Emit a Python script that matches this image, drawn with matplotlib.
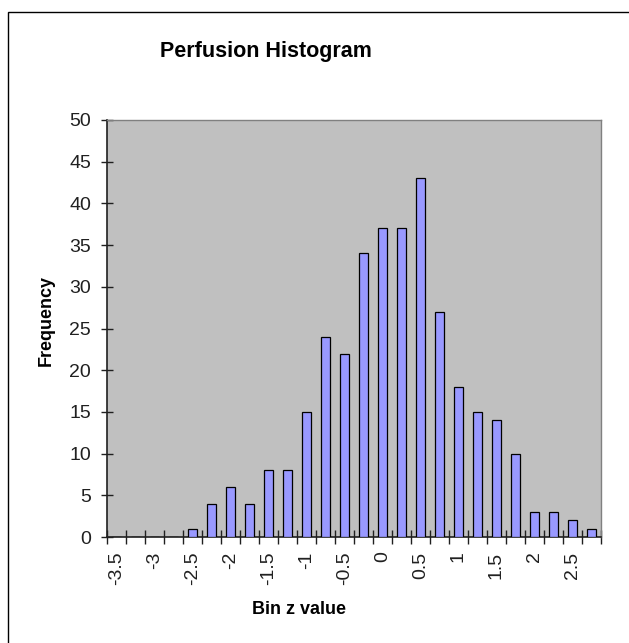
import matplotlib
matplotlib.use("Agg")
import matplotlib.pyplot as plt
import matplotlib.patches as mpatches
import numpy as np

bins = [-3.5, -3.25, -3.0, -2.75, -2.5, -2.25, -2.0, -1.75, -1.5, -1.25, -1.0, -0.75, -0.5,
        -0.25, 0.0, 0.25, 0.5, 0.75, 1.0, 1.25, 1.5, 1.75, 2.0, 2.25, 2.5, 2.75]
frequency = [0, 0, 0, 0, 1, 4, 6, 4, 8, 8, 15, 24, 22, 34, 37, 37, 43, 27, 18, 15, 14, 10,
             3, 3, 2, 1]
tick_labels = ["-3.5", "-3", "-2.5", "-2", "-1.5", "-1", "-0.5", "0", "0.5", "1", "1.5", "2", "2.5"]

plt.rcParams['font.family'] = ['Liberation Sans', 'DejaVu Sans']

W, H = 629, 643
fig = plt.figure(figsize=(W / 100, H / 100), dpi=100)

# outer chart frame
fig.patches.append(mpatches.Rectangle((8 / W, -0.5), 2, 1.5 - 12 / H,
                                      transform=fig.transFigure, fill=False,
                                      edgecolor='black', linewidth=1.0))

ax = fig.add_axes([107 / W, 1 - 537 / H, (601 - 107) / W, (537 - 120) / H])
ax.set_facecolor('#C0C0C0')

x = np.arange(len(bins))
ax.bar(x, frequency, width=0.43, color='#9999FF', edgecolor='black', linewidth=0.9, zorder=3)

ax.set_xlim(-0.5, len(bins) - 0.5)
ax.set_ylim(0, 50)
ax.set_yticks(np.arange(0, 51, 5))
ax.tick_params(axis='y', direction='inout', length=9, width=1.0, color='#202020',
               labelsize=14, pad=7, labelcolor='#202020')

ax.set_xticks(x[::2])
ax.set_xticklabels(tick_labels, rotation=90, va='top', ha='center')
ax.set_xticks(np.arange(len(bins) + 1) - 0.5, minor=True)
ax.tick_params(axis='x', which='major', length=0, labelsize=14, pad=10.5, labelcolor='#202020')
ax.tick_params(axis='x', which='minor', direction='inout', length=9.4, width=1.0, color='#202020')

for s in ['left', 'bottom']:
    ax.spines[s].set_color('#202020')
    ax.spines[s].set_linewidth(1.2)
for s in ['top', 'right']:
    ax.spines[s].set_color('#808080')
    ax.spines[s].set_linewidth(1.0)

fig.text(266 / W, 1 - 52 / H, "Perfusion Histogram", ha='center', va='center',
         fontsize=15.5, fontweight='bold')
fig.text(299 / W, 1 - 609 / H, "Bin z value", ha='center', va='center',
         fontsize=13, fontweight='bold')
fig.text(46 / W, 1 - 320 / H, "Frequency", ha='center', va='center', rotation=90,
         fontsize=13, fontweight='bold')

fig.savefig("out.png", dpi=100)
